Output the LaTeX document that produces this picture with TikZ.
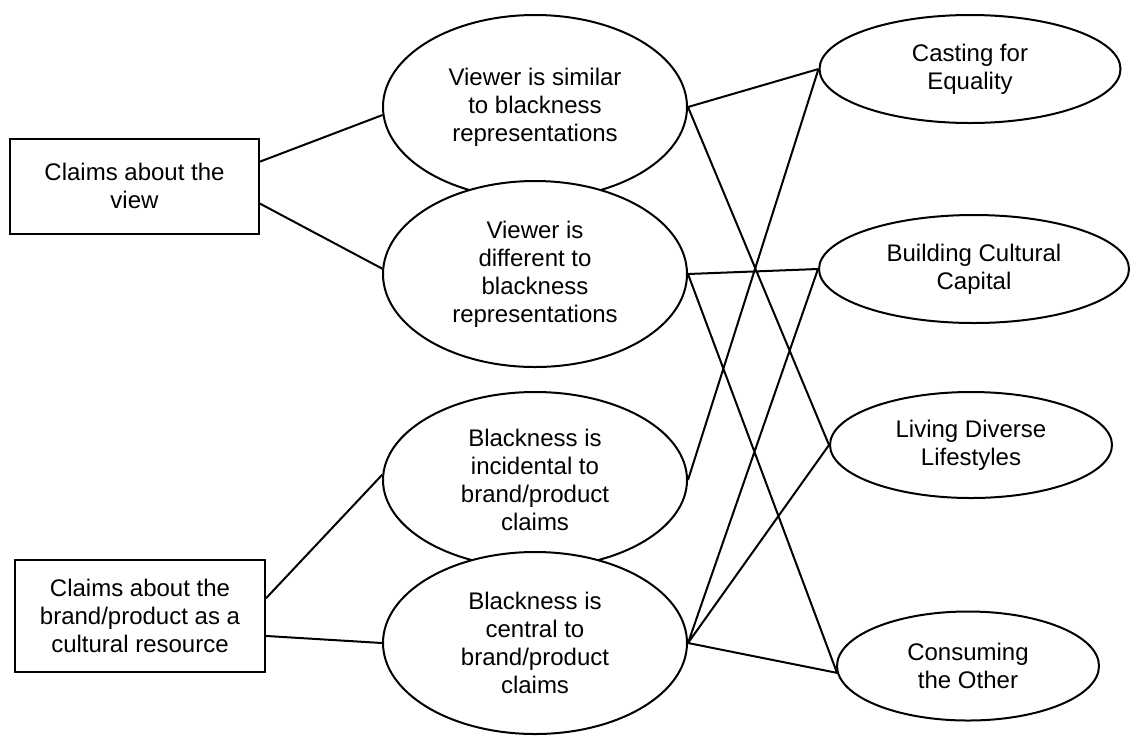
\documentclass[tikz,border=0pt]{standalone}
\usepackage{fontspec}
\setmainfont{Liberation Sans}
\usetikzlibrary{shapes.geometric}
\begin{document}
\begin{tikzpicture}[x=0.5pt,y=-0.5pt,line width=1pt,
  font=\fontsize{12}{14}\selectfont,
  claim/.style={draw,rectangle,align=center,inner sep=0pt,fill=white},
  stance/.style={draw,ellipse,align=center,inner sep=0pt,fill=white,
    minimum width=152pt,minimum height=92pt},
  theme/.style={draw,ellipse,align=center,inner sep=0pt,fill=white,
    minimum height=54pt}]

\useasboundingbox (0,0) rectangle (1130,735);

\node[claim,minimum width=124.5pt,minimum height=47.5pt] (view) at (134.5,186)
    {Claims about the\\view};
\node[claim,minimum width=125pt,minimum height=56pt] (brand) at (140,616)
    {Claims about the\\brand/product as a\\cultural resource};

\node[stance] (similar) at (535,107) {Viewer is similar\\to blackness\\representations};
\node[stance,minimum height=93pt] (different) at (535,274) {Viewer is\\different to\\blackness\\representations};
\node[stance,minimum height=88pt] (incidental) at (535,480) {Blackness is\\incidental to\\brand/product\\claims};
\node[stance,minimum height=91pt] (central) at (535,643) {Blackness is\\central to\\brand/product\\claims};

\node[theme,minimum width=150.5pt] (casting) at (970,69) {Casting for\\Equality};
\node[theme,minimum width=155pt] (building) at (974,269) {Building Cultural\\Capital};
\node[theme,minimum width=141pt,minimum height=53pt] (living) at (971,445) {Living Diverse\\Lifestyles};
\node[theme,minimum width=131pt,minimum height=54.5pt] (consuming) at (968,666) {Consuming\\the Other};

\path [draw,-]
    (view.11) -- (similar.183)
    (view.-8) -- (different.178)
    (brand.8) -- (incidental.178)
    (brand.-9) -- (central.west)
    (similar.east) -- (casting.west)
    (similar.east) -- (living.west)
    (different.east) -- (building.west)
    (different.east) -- (consuming.183)
    (incidental.east) -- (casting.west)
    (central.east) -- (building.west)
    (central.east) -- (living.west)
    (central.east) -- (consuming.183)
;

\end{tikzpicture}
\end{document}
